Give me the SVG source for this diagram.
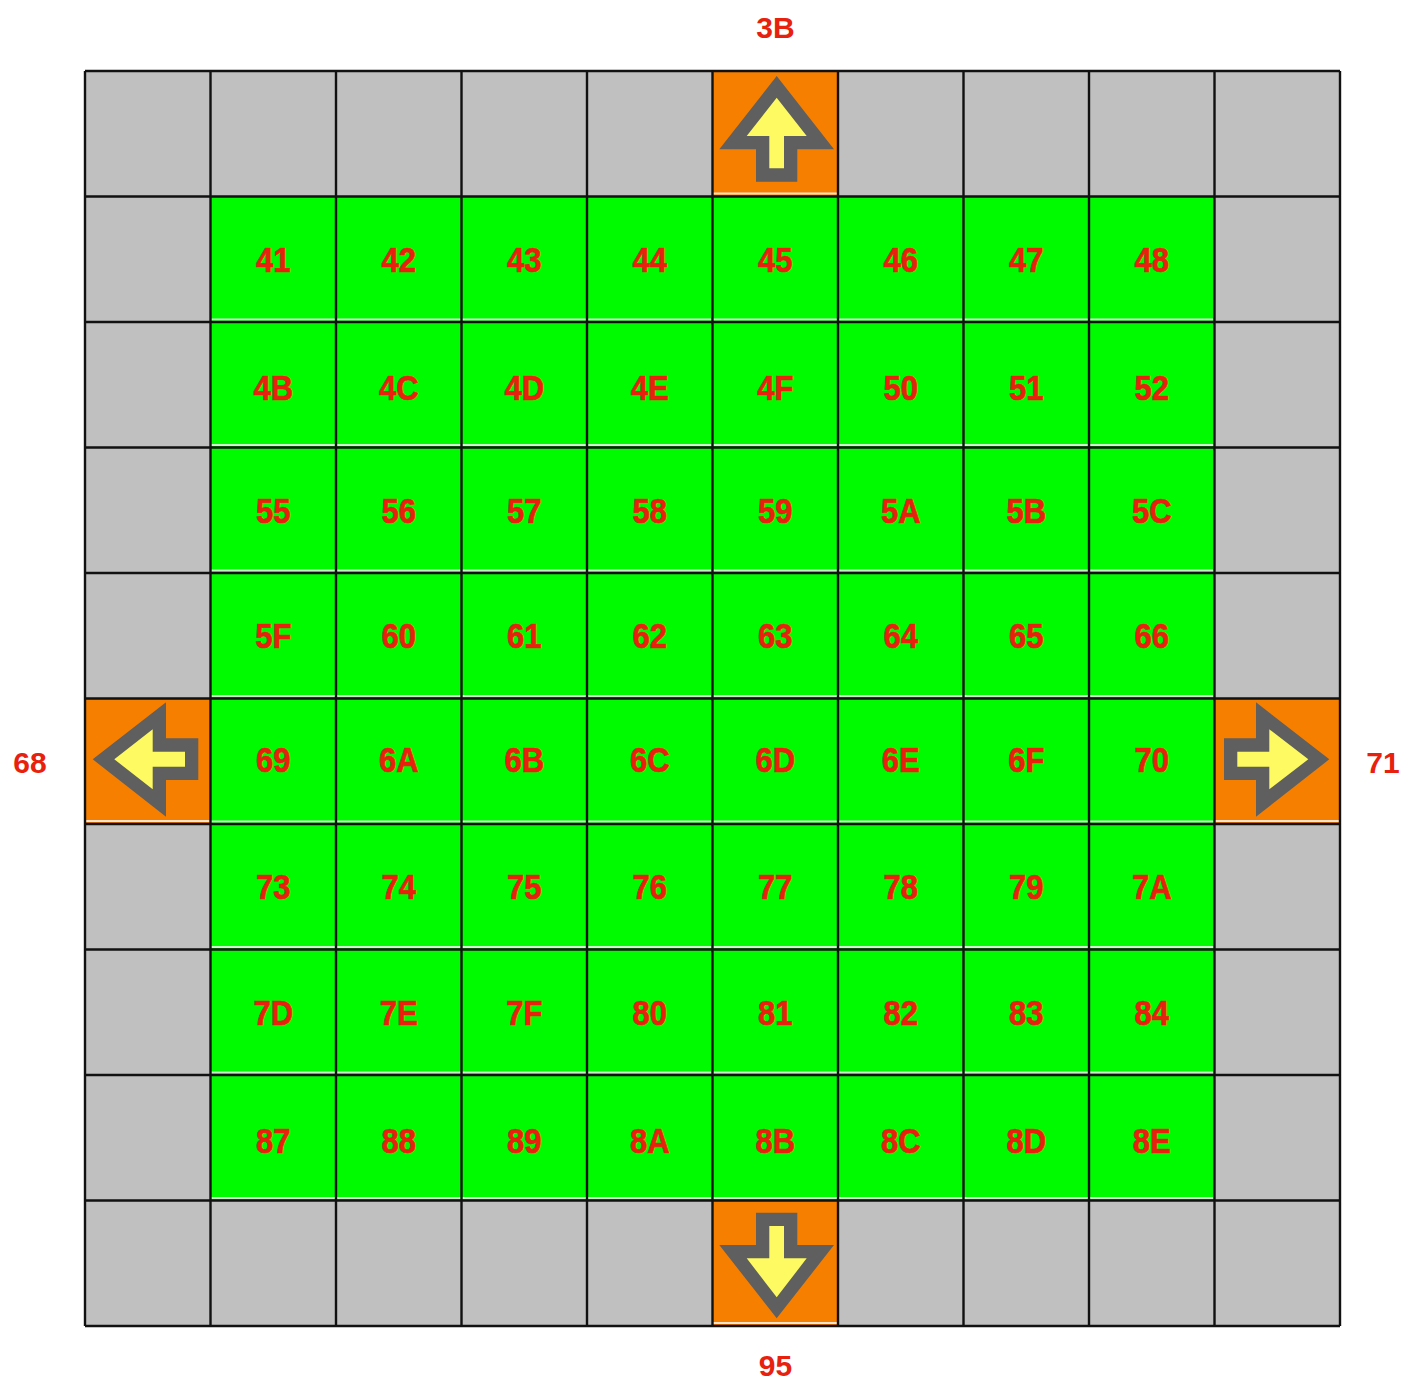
<svg xmlns="http://www.w3.org/2000/svg" width="1405" height="1380" viewBox="0 0 1405 1380">
<style>
.bg{fill:#c0c0c0}
.g{fill:#00fa00}
.o{fill:#f77f00}
.hl{stroke:#f4f4f4;stroke-width:2;stroke-opacity:0.85}
.t{font-family:"Liberation Sans",Arial,sans-serif;font-weight:bold;font-size:30px;fill:#e8210f;text-anchor:middle}
.c .t{font-size:31px;stroke:#e8210f;stroke-width:0.6}
.ao{fill:#5f5f5f}
.ai{fill:#fdfa62}
.grid{stroke:#111;stroke-width:2.4;fill:none}
</style>
<rect width="1405" height="1380" fill="#fff"/>
<rect class="bg" x="85" y="71" width="1255" height="1255"/>
<defs>
<g id="cellbg"><rect class="g" width="125.5" height="125.5"/><line class="hl" x1="0" y1="123" x2="125.5" y2="123"/></g>
</defs>
<g id="cells" class="c">
<g id="c41" transform="translate(210.5,196.5)"><use href="#cellbg"/><text class="t" transform="translate(62.75,75.4) scale(1,1.15)">41</text></g>
<g id="c42" transform="translate(336,196.5)"><use href="#cellbg"/><text class="t" transform="translate(62.75,75.4) scale(1,1.15)">42</text></g>
<g id="c43" transform="translate(461.5,196.5)"><use href="#cellbg"/><text class="t" transform="translate(62.75,75.4) scale(1,1.15)">43</text></g>
<g id="c44" transform="translate(587,196.5)"><use href="#cellbg"/><text class="t" transform="translate(62.75,75.4) scale(1,1.15)">44</text></g>
<g id="c45" transform="translate(712.5,196.5)"><use href="#cellbg"/><text class="t" transform="translate(62.75,75.4) scale(1,1.15)">45</text></g>
<g id="c46" transform="translate(838,196.5)"><use href="#cellbg"/><text class="t" transform="translate(62.75,75.4) scale(1,1.15)">46</text></g>
<g id="c47" transform="translate(963.5,196.5)"><use href="#cellbg"/><text class="t" transform="translate(62.75,75.4) scale(1,1.15)">47</text></g>
<g id="c48" transform="translate(1089,196.5)"><use href="#cellbg"/><text class="t" transform="translate(62.75,75.4) scale(1,1.15)">48</text></g>

<g id="c4B" transform="translate(210.5,322)"><use href="#cellbg"/><text class="t" transform="translate(62.75,78) scale(1,1.15)">4B</text></g>
<g id="c4C" transform="translate(336,322)"><use href="#cellbg"/><text class="t" transform="translate(62.75,78) scale(1,1.15)">4C</text></g>
<g id="c4D" transform="translate(461.5,322)"><use href="#cellbg"/><text class="t" transform="translate(62.75,78) scale(1,1.15)">4D</text></g>
<g id="c4E" transform="translate(587,322)"><use href="#cellbg"/><text class="t" transform="translate(62.75,78) scale(1,1.15)">4E</text></g>
<g id="c4F" transform="translate(712.5,322)"><use href="#cellbg"/><text class="t" transform="translate(62.75,78) scale(1,1.15)">4F</text></g>
<g id="c50" transform="translate(838,322)"><use href="#cellbg"/><text class="t" transform="translate(62.75,78) scale(1,1.15)">50</text></g>
<g id="c51" transform="translate(963.5,322)"><use href="#cellbg"/><text class="t" transform="translate(62.75,78) scale(1,1.15)">51</text></g>
<g id="c52" transform="translate(1089,322)"><use href="#cellbg"/><text class="t" transform="translate(62.75,78) scale(1,1.15)">52</text></g>

<g id="c55" transform="translate(210.5,447.5)"><use href="#cellbg"/><text class="t" transform="translate(62.75,75.4) scale(1,1.15)">55</text></g>
<g id="c56" transform="translate(336,447.5)"><use href="#cellbg"/><text class="t" transform="translate(62.75,75.4) scale(1,1.15)">56</text></g>
<g id="c57" transform="translate(461.5,447.5)"><use href="#cellbg"/><text class="t" transform="translate(62.75,75.4) scale(1,1.15)">57</text></g>
<g id="c58" transform="translate(587,447.5)"><use href="#cellbg"/><text class="t" transform="translate(62.75,75.4) scale(1,1.15)">58</text></g>
<g id="c59" transform="translate(712.5,447.5)"><use href="#cellbg"/><text class="t" transform="translate(62.75,75.4) scale(1,1.15)">59</text></g>
<g id="c5A" transform="translate(838,447.5)"><use href="#cellbg"/><text class="t" transform="translate(62.75,75.4) scale(1,1.15)">5A</text></g>
<g id="c5B" transform="translate(963.5,447.5)"><use href="#cellbg"/><text class="t" transform="translate(62.75,75.4) scale(1,1.15)">5B</text></g>
<g id="c5C" transform="translate(1089,447.5)"><use href="#cellbg"/><text class="t" transform="translate(62.75,75.4) scale(1,1.15)">5C</text></g>

<g id="c5F" transform="translate(210.5,573)"><use href="#cellbg"/><text class="t" transform="translate(62.75,75.4) scale(1,1.15)">5F</text></g>
<g id="c60" transform="translate(336,573)"><use href="#cellbg"/><text class="t" transform="translate(62.75,75.4) scale(1,1.15)">60</text></g>
<g id="c61" transform="translate(461.5,573)"><use href="#cellbg"/><text class="t" transform="translate(62.75,75.4) scale(1,1.15)">61</text></g>
<g id="c62" transform="translate(587,573)"><use href="#cellbg"/><text class="t" transform="translate(62.75,75.4) scale(1,1.15)">62</text></g>
<g id="c63" transform="translate(712.5,573)"><use href="#cellbg"/><text class="t" transform="translate(62.75,75.4) scale(1,1.15)">63</text></g>
<g id="c64" transform="translate(838,573)"><use href="#cellbg"/><text class="t" transform="translate(62.75,75.4) scale(1,1.15)">64</text></g>
<g id="c65" transform="translate(963.5,573)"><use href="#cellbg"/><text class="t" transform="translate(62.75,75.4) scale(1,1.15)">65</text></g>
<g id="c66" transform="translate(1089,573)"><use href="#cellbg"/><text class="t" transform="translate(62.75,75.4) scale(1,1.15)">66</text></g>

<g id="c69" transform="translate(210.5,698.5)"><use href="#cellbg"/><text class="t" transform="translate(62.75,73) scale(1,1.15)">69</text></g>
<g id="c6A" transform="translate(336,698.5)"><use href="#cellbg"/><text class="t" transform="translate(62.75,73) scale(1,1.15)">6A</text></g>
<g id="c6B" transform="translate(461.5,698.5)"><use href="#cellbg"/><text class="t" transform="translate(62.75,73) scale(1,1.15)">6B</text></g>
<g id="c6C" transform="translate(587,698.5)"><use href="#cellbg"/><text class="t" transform="translate(62.75,73) scale(1,1.15)">6C</text></g>
<g id="c6D" transform="translate(712.5,698.5)"><use href="#cellbg"/><text class="t" transform="translate(62.75,73) scale(1,1.15)">6D</text></g>
<g id="c6E" transform="translate(838,698.5)"><use href="#cellbg"/><text class="t" transform="translate(62.75,73) scale(1,1.15)">6E</text></g>
<g id="c6F" transform="translate(963.5,698.5)"><use href="#cellbg"/><text class="t" transform="translate(62.75,73) scale(1,1.15)">6F</text></g>
<g id="c70" transform="translate(1089,698.5)"><use href="#cellbg"/><text class="t" transform="translate(62.75,73) scale(1,1.15)">70</text></g>

<g id="c73" transform="translate(210.5,824)"><use href="#cellbg"/><text class="t" transform="translate(62.75,75.4) scale(1,1.15)">73</text></g>
<g id="c74" transform="translate(336,824)"><use href="#cellbg"/><text class="t" transform="translate(62.75,75.4) scale(1,1.15)">74</text></g>
<g id="c75" transform="translate(461.5,824)"><use href="#cellbg"/><text class="t" transform="translate(62.75,75.4) scale(1,1.15)">75</text></g>
<g id="c76" transform="translate(587,824)"><use href="#cellbg"/><text class="t" transform="translate(62.75,75.4) scale(1,1.15)">76</text></g>
<g id="c77" transform="translate(712.5,824)"><use href="#cellbg"/><text class="t" transform="translate(62.75,75.4) scale(1,1.15)">77</text></g>
<g id="c78" transform="translate(838,824)"><use href="#cellbg"/><text class="t" transform="translate(62.75,75.4) scale(1,1.15)">78</text></g>
<g id="c79" transform="translate(963.5,824)"><use href="#cellbg"/><text class="t" transform="translate(62.75,75.4) scale(1,1.15)">79</text></g>
<g id="c7A" transform="translate(1089,824)"><use href="#cellbg"/><text class="t" transform="translate(62.75,75.4) scale(1,1.15)">7A</text></g>

<g id="c7D" transform="translate(210.5,949.5)"><use href="#cellbg"/><text class="t" transform="translate(62.75,75.4) scale(1,1.15)">7D</text></g>
<g id="c7E" transform="translate(336,949.5)"><use href="#cellbg"/><text class="t" transform="translate(62.75,75.4) scale(1,1.15)">7E</text></g>
<g id="c7F" transform="translate(461.5,949.5)"><use href="#cellbg"/><text class="t" transform="translate(62.75,75.4) scale(1,1.15)">7F</text></g>
<g id="c80" transform="translate(587,949.5)"><use href="#cellbg"/><text class="t" transform="translate(62.75,75.4) scale(1,1.15)">80</text></g>
<g id="c81" transform="translate(712.5,949.5)"><use href="#cellbg"/><text class="t" transform="translate(62.75,75.4) scale(1,1.15)">81</text></g>
<g id="c82" transform="translate(838,949.5)"><use href="#cellbg"/><text class="t" transform="translate(62.75,75.4) scale(1,1.15)">82</text></g>
<g id="c83" transform="translate(963.5,949.5)"><use href="#cellbg"/><text class="t" transform="translate(62.75,75.4) scale(1,1.15)">83</text></g>
<g id="c84" transform="translate(1089,949.5)"><use href="#cellbg"/><text class="t" transform="translate(62.75,75.4) scale(1,1.15)">84</text></g>

<g id="c87" transform="translate(210.5,1075)"><use href="#cellbg"/><text class="t" transform="translate(62.75,77.5) scale(1,1.15)">87</text></g>
<g id="c88" transform="translate(336,1075)"><use href="#cellbg"/><text class="t" transform="translate(62.75,77.5) scale(1,1.15)">88</text></g>
<g id="c89" transform="translate(461.5,1075)"><use href="#cellbg"/><text class="t" transform="translate(62.75,77.5) scale(1,1.15)">89</text></g>
<g id="c8A" transform="translate(587,1075)"><use href="#cellbg"/><text class="t" transform="translate(62.75,77.5) scale(1,1.15)">8A</text></g>
<g id="c8B" transform="translate(712.5,1075)"><use href="#cellbg"/><text class="t" transform="translate(62.75,77.5) scale(1,1.15)">8B</text></g>
<g id="c8C" transform="translate(838,1075)"><use href="#cellbg"/><text class="t" transform="translate(62.75,77.5) scale(1,1.15)">8C</text></g>
<g id="c8D" transform="translate(963.5,1075)"><use href="#cellbg"/><text class="t" transform="translate(62.75,77.5) scale(1,1.15)">8D</text></g>
<g id="c8E" transform="translate(1089,1075)"><use href="#cellbg"/><text class="t" transform="translate(62.75,77.5) scale(1,1.15)">8E</text></g>
</g>

<g id="exit-top">
<rect class="o" x="712.5" y="71" width="125.5" height="125.5"/>
<line class="hl" x1="712.5" y1="193.5" x2="838" y2="193.5"/>
<polygon class="ao" points="776.7,76 834,149.3 797.3,149.3 797.3,181.7 756,181.7 756,149.3 719.3,149.3"/>
<polygon class="ai" points="776.7,97.7 806.7,136 784,136 784,168.3 769.3,168.3 769.3,136 746.7,136"/>
<text class="t" x="775.5" y="38">3B</text>
</g>
<g id="exit-bottom">
<rect class="o" x="712.5" y="1200.5" width="125.5" height="125.5"/>
<line class="hl" x1="712.5" y1="1323" x2="838" y2="1323"/>
<polygon class="ao" points="776.7,1318.3 834,1245 797.3,1245 797.3,1212.7 756,1212.7 756,1245 719.3,1245"/>
<polygon class="ai" points="776.7,1297.3 806.7,1258.3 784,1258.3 784,1226 769.3,1226 769.3,1258.3 746.7,1258.3"/>
<text class="t" x="775.5" y="1376">95</text>
</g>
<g id="exit-left">
<rect class="o" x="85" y="698.5" width="125.5" height="125.5"/>
<line class="hl" x1="85" y1="821" x2="210.5" y2="821"/>
<polygon class="ao" points="92.7,759.3 166,702.3 166,738.3 198.3,738.3 198.3,780 166,780 166,816.7"/>
<polygon class="ai" points="114.3,759.3 152.7,729.3 152.7,751.7 185,751.7 185,766.7 152.7,766.7 152.7,789.3"/>
<text class="t" x="30" y="773">68</text>
</g>
<g id="exit-right">
<rect class="o" x="1214.5" y="698.5" width="125.5" height="125.5"/>
<line class="hl" x1="1214.5" y1="821" x2="1340" y2="821"/>
<polygon class="ao" points="1329.3,759.3 1256,702.3 1256,738.3 1224,738.3 1224,780 1256,780 1256,816.7"/>
<polygon class="ai" points="1308.3,759.3 1269.3,729.3 1269.3,751.7 1237.3,751.7 1237.3,766.7 1269.3,766.7 1269.3,789.3"/>
<text class="t" x="1383" y="773">71</text>
</g>

<g id="connectors">
<path class="grid" d="M85,71V1326M210.5,71V1326M336,71V1326M461.5,71V1326M587,71V1326M712.5,71V1326M838,71V1326M963.5,71V1326M1089,71V1326M1214.5,71V1326M1340,71V1326M85,71H1340M85,196.5H1340M85,322H1340M85,447.5H1340M85,573H1340M85,698.5H1340M85,824H1340M85,949.5H1340M85,1075H1340M85,1200.5H1340M85,1326H1340"/>
</g>
</svg>
